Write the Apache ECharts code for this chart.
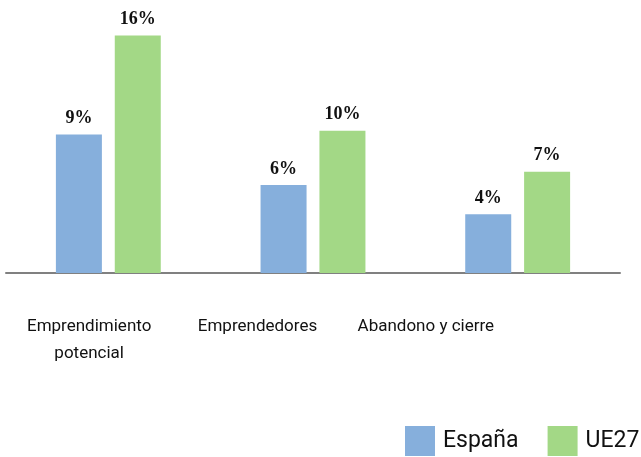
<!DOCTYPE html>
<html>
<head>
<meta charset="utf-8">
<script src="https://cdn.jsdelivr.net/npm/echarts@6/dist/echarts.min.js"></script>
<style>
  html, body { margin: 0; padding: 0; background: #fff; }
  #chart { width: 641px; height: 457px; }
</style>
</head>
<body>
<div id="chart"></div>
<script>
// datos
const categories = ['Emprendimiento\npotencial', 'Emprendedores', 'Abandono y cierre']
const espana = [9.45, 6.0, 4.0]
const ue27 = [16.2, 9.7, 6.9]

const colorEspana = '#86afdc'
const colorUE = '#a3d886'

const chart = echarts.init(document.getElementById('chart'))

const barLabel = {
  show: true,
  position: 'top',
  distance: 7,
  color: '#111',
  fontFamily: '"Liberation Serif", "DejaVu Serif", serif',
  fontWeight: 'bold',
  fontSize: 18,
  formatter: p => Math.round(p.value) + '%'
}

chart.setOption({
  animation: false,
  legend: {
    left: 405,
    top: 426,
    padding: 0,
    itemWidth: 30,
    itemHeight: 30,
    itemGap: 29,
    icon: 'rect',
    textStyle: { fontFamily: 'Roboto, sans-serif', fontSize: 23, color: '#111', padding: [0, 0, 0, 3] },
    data: ['España', 'UE27']
  },
  grid: [
    { left: 6, right: 21, top: 9, bottom: 184 },
    { left: 5, right: 131, top: 9, bottom: 184 }
  ],
  xAxis: [
    {
      type: 'category',
      gridIndex: 0,
      data: categories,
      axisLine: { show: true, lineStyle: { color: '#808080', width: 2 } },
      axisTick: { show: false },
      axisLabel: { show: false }
    },
    {
      type: 'category',
      gridIndex: 1,
      data: categories,
      axisLine: { show: false },
      axisTick: { show: false },
      axisLabel: {
        interval: 0,
        margin: 40,
        fontFamily: 'Roboto, sans-serif',
        fontSize: 17,
        lineHeight: 27,
        color: '#111'
      }
    }
  ],
  yAxis: [
    { type: 'value', gridIndex: 0, min: 0, max: 18, show: false, splitLine: { show: false } },
    { type: 'value', gridIndex: 1, min: 0, max: 18, show: false, splitLine: { show: false } }
  ],
  series: [
    {
      name: 'España',
      type: 'bar',
      xAxisIndex: 0,
      yAxisIndex: 0,
      data: espana,
      barWidth: 46,
      barGap: '28%',
      itemStyle: { color: colorEspana },
      label: barLabel
    },
    {
      name: 'UE27',
      type: 'bar',
      xAxisIndex: 0,
      yAxisIndex: 0,
      data: ue27,
      barWidth: 46,
      barGap: '28%',
      itemStyle: { color: colorUE },
      label: barLabel
    }
  ]
})

window.addEventListener('resize', () => chart.resize())
</script>
</body>
</html>
